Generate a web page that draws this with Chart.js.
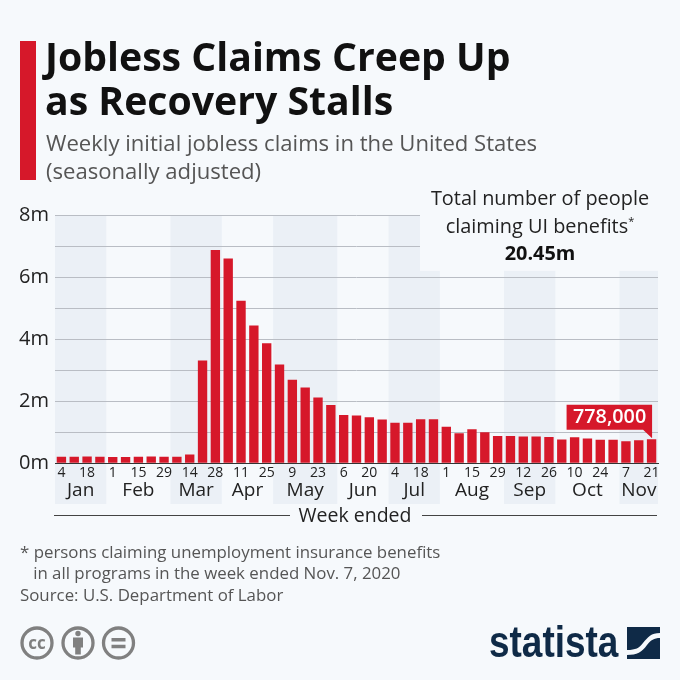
<!DOCTYPE html>
<html>
<head>
<meta charset="utf-8">
<script src="https://cdn.jsdelivr.net/npm/chart.js@4"></script>
<style>
  html, body { margin: 0; padding: 0; background: #f6f9fc; }
  #page { position: relative; width: 680px; height: 680px; overflow: hidden; font-family: "Open Sans", sans-serif; }
  #page div { position: absolute; white-space: nowrap; }
  canvas { position: absolute; left: 0; top: 0; }
  #redbar { left: 20px; top: 41px; width: 16px; height: 139px; background: #d6182a; }
  #title { left: 45px; top: 34px; font-size: 39.2px; line-height: 43.5px; font-weight: 700; color: #111; }
  #subtitle { left: 46px; top: 129px; font-size: 22.1px; line-height: 27.5px; color: #555; }
  #total { left: 400px; width: 280px; top: 184px; text-align: center; font-size: 19.9px; line-height: 27.5px; color: #222; }
  #total b { color: #111; }
  #total sup { font-size: 11px; line-height: 0; }
  #weekEnded { left: 290px; width: 130px; top: 503px; text-align: center; font-size: 19.5px; line-height: 24px; color: #222; }
  .rule { top: 515px; height: 1px; background: #444; }
  #notes { left: 20px; top: 541px; font-size: 16.85px; line-height: 21px; color: #555; }
  #source { left: 20px; top: 584px; font-size: 16.85px; line-height: 21px; color: #555; }
  #logo { left: 489px; top: 612px; font-family: "Liberation Sans", sans-serif; font-weight: 700; font-size: 44px; line-height: 60px; color: #0f2a47; transform-origin: left center; transform: scaleX(0.84); }
  svg { position: absolute; }
</style>
</head>
<body>
<div id="page">
  <canvas id="chart" width="680" height="680"></canvas>
  <div id="redbar"></div>
  <div id="title">Jobless Claims Creep Up<br>as Recovery Stalls</div>
  <div id="subtitle">Weekly initial jobless claims in the United States<br>(seasonally adjusted)</div>
  <div id="total">Total number of people<br>claiming UI benefits<sup>*</sup><br><b>20.45m</b></div>
  <div class="rule" style="left:54px;width:236px"></div>
  <div id="weekEnded">Week ended</div>
  <div class="rule" style="left:422px;width:235px"></div>
  <div id="notes">* persons claiming unemployment insurance benefits<br>&nbsp;&nbsp;&nbsp;in all programs in the week ended Nov. 7, 2020</div>
  <div id="source">Source: U.S. Department of Labor</div>
  <svg style="left:20px;top:625px" width="120" height="36" viewBox="0 0 120 36">
    <g fill="none" stroke="#808080" stroke-width="3.3">
      <circle cx="17" cy="18" r="15"/><circle cx="58" cy="18" r="15"/><circle cx="98.500" cy="18" r="15"/>
    </g>
    <text x="17" y="23.500" text-anchor="middle" font-family="Open Sans" font-weight="700" font-size="17" fill="#808080">cc</text>
    <circle cx="58" cy="8.500" r="2.700" fill="#808080"/>
    <path d="M53 12.500h10v10h-2.200v7h-5.600v-7h-2.200z" fill="#808080"/>
    <path d="M91.500 13h14v3.400h-14zM91.500 19.800h14v3.400h-14z" fill="#808080"/>
  </svg>
  <div id="logo">statista</div>
  <svg style="left:627px;top:627px" width="33" height="32" viewBox="0 0 33 32">
    <path d="M0 0H33V6C24 6 21 10 16 16C12 21 9 23 0 23ZM33 11V32H0V28C10 28 15 25 20 18C24 13 27 11 33 11Z" fill="#0f2a47"/>
  </svg>
</div>
<script>
// Week ending dates, only every other one is printed on the axis
const weekLabels = ['4', '', '18', '', '1', '', '15', '', '29', '', '14', '', '28', '', '11', '', '25', '', '9', '', '23', '', '6', '', '20', '', '4', '', '18', '', '1', '', '15', '', '29', '', '12', '', '26', '', '10', '', '24', '', '7', '', '21'];
// Initial claims, millions
const claims = [0.21, 0.21, 0.22, 0.21, 0.2, 0.2, 0.21, 0.22, 0.21, 0.21, 0.28, 3.31, 6.87, 6.6, 5.24, 4.44, 3.87, 3.18, 2.69, 2.44, 2.12, 1.88, 1.56, 1.54, 1.48, 1.41, 1.31, 1.31, 1.42, 1.42, 1.18, 0.97, 1.1, 1.0, 0.88, 0.88, 0.86, 0.86, 0.85, 0.77, 0.84, 0.8, 0.76, 0.76, 0.71, 0.74, 0.778];
const months = ['Jan', 'Feb', 'Mar', 'Apr', 'May', 'Jun', 'Jul', 'Aug', 'Sep', 'Oct', 'Nov'];
const monthWeeks = [4, 5, 4, 4, 5, 4, 4, 5, 4, 5, 3];
const yTickLabels = { 0: '0m', 2: '2m', 4: '4m', 6: '6m', 8: '8m' };
const calloutLabel = '778,000';

const BG = '#f6f9fc';
const BAND = '#ebf0f6';
const RED = '#d6182a';

const monthsPlugin = {
    id: 'months',
    beforeDraw(chart) {
        const { ctx, chartArea, scales } = chart;
        const step = (chartArea.right - chartArea.left) / claims.length;
        ctx.save();
        let start = 0;
        monthWeeks.forEach((n, i) => {
            const x0 = chartArea.left + start * step;
            if (i % 2 === 0) {
                ctx.fillStyle = BAND;
                ctx.fillRect(x0, scales.y.getPixelForValue(8), n * step, 504 - scales.y.getPixelForValue(8));
            }
            start += n;
        });
        ctx.restore();
    },
    beforeDatasetsDraw(chart) {
        // the area behind the "total number" note is cleared
        const { ctx, chartArea, scales } = chart;
        const y0 = scales.y.getPixelForValue(8.1);
        ctx.fillStyle = BG;
        ctx.fillRect(420, y0, chartArea.right + 2 - 420, scales.y.getPixelForValue(6.2) - y0);
    },
    afterDraw(chart) {
        const { ctx, chartArea, scales } = chart;
        const step = (chartArea.right - chartArea.left) / claims.length;
        ctx.save();
        // month names
        ctx.font = '19px "Open Sans"';
        ctx.fillStyle = '#222';
        ctx.textAlign = 'center';
        ctx.textBaseline = 'alphabetic';
        let start = 0;
        months.forEach((m, i) => {
            ctx.fillText(m, chartArea.left + (start + monthWeeks[i] / 2) * step, 495.5);
            start += monthWeeks[i];
        });
        // callout on the last bar
        const last = claims.length - 1;
        const px = scales.x.getPixelForValue(last);
        const py = scales.y.getPixelForValue(claims[last]);
        const right = px + 0.5;
        const bottom = py - 9.5;
        ctx.fillStyle = RED;
        ctx.beginPath();
        ctx.moveTo(right - 85.5, bottom - 25);
        ctx.lineTo(right, bottom - 25);
        ctx.lineTo(right, py - 1);
        ctx.lineTo(right - 9, bottom);
        ctx.lineTo(right - 85.5, bottom);
        ctx.closePath();
        ctx.fill();
        ctx.fillStyle = '#fff';
        ctx.font = '600 19.8px "Open Sans"';
        ctx.textBaseline = 'middle';
        ctx.fillText(calloutLabel, right - 42.5, bottom - 12);
        ctx.restore();
    }
};

const config = {
    type: 'bar',
    data: {
        labels: weekLabels,
        datasets: [{
            data: claims,
            backgroundColor: RED,
            barPercentage: 0.73,
            categoryPercentage: 1
        }]
    },
    options: {
        responsive: false,
        animation: false,
        layout: {
            padding: { top: 215, right: 22, bottom: 186.7, left: 0 }
        },
        plugins: {
            legend: { display: false },
            title: { display: false },
            tooltip: { enabled: false }
        },
        scales: {
            x: {
                afterFit: (scale) => { scale.height = 30; },
                grid: { display: false, drawTicks: false },
                border: { color: '#333', width: 1 },
                ticks: {
                    autoSkip: false,
                    maxRotation: 0,
                    padding: 1,
                    color: '#222',
                    font: { family: 'Open Sans', size: 14 }
                }
            },
            y: {
                min: 0,
                max: 8,
                afterFit: (scale) => { scale.width = 55; },
                grid: { color: '#b9bdc4', lineWidth: 1, drawTicks: false },
                border: { display: false },
                ticks: {
                    stepSize: 1,
                    padding: 6,
                    color: '#222',
                    font: { family: 'Open Sans', size: 20 },
                    callback: (value) => yTickLabels[value] || ''
                }
            }
        }
    },
    plugins: [monthsPlugin]
};

new Chart(document.getElementById('chart'), config);
</script>
</body>
</html>
